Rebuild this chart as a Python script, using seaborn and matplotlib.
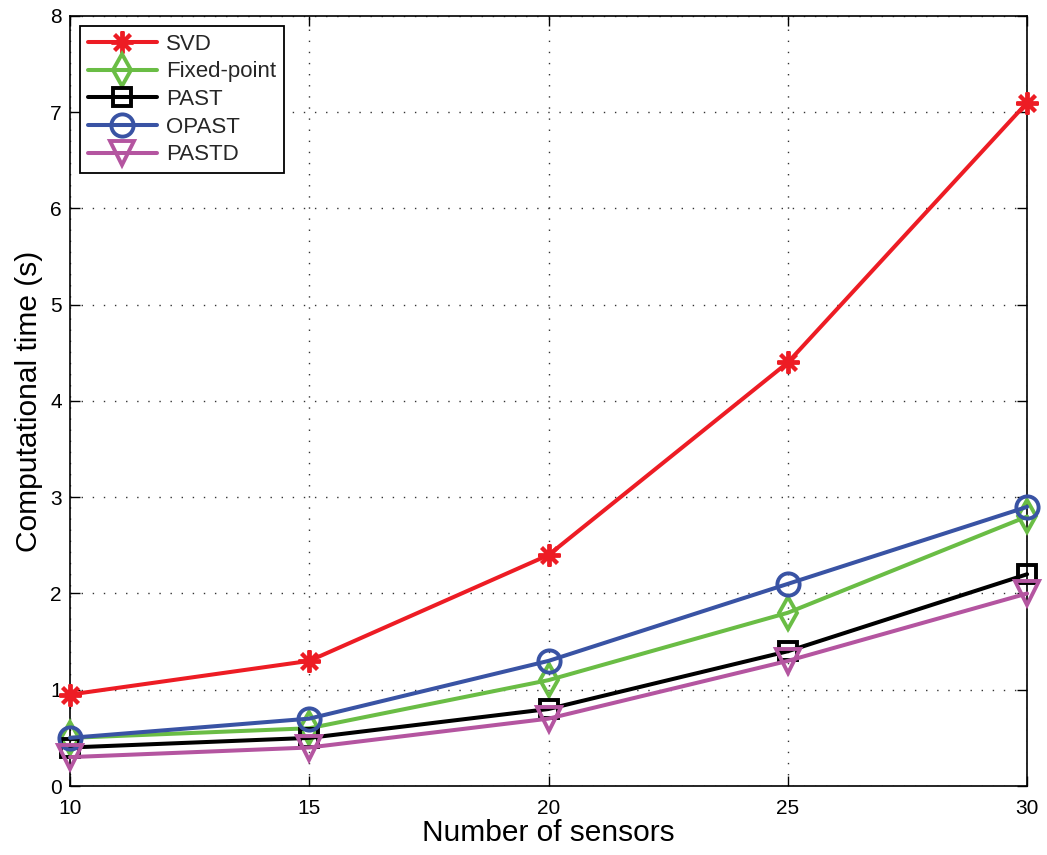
import matplotlib
matplotlib.use("Agg")
import matplotlib.pyplot as plt
import seaborn as sns
import pandas as pd

sensors = [10, 15, 20, 25, 30]
svd = [0.95, 1.3, 2.4, 4.4, 7.1]
fixed_point = [0.5, 0.6, 1.1, 1.8, 2.8]
past = [0.4, 0.5, 0.8, 1.4, 2.2]
opast = [0.5, 0.7, 1.3, 2.1, 2.9]
pastd = [0.3, 0.4, 0.7, 1.3, 2.0]

series_names = ["SVD", "Fixed-point", "PAST", "OPAST", "PASTD"]
series_values = [svd, fixed_point, past, opast, pastd]
x_ticks = [10, 15, 20, 25, 30]
y_ticks = [0, 1, 2, 3, 4, 5, 6, 7, 8]

sns.set_theme(style="ticks")
plt.rcParams["font.family"] = ["Liberation Sans", "DejaVu Sans"]

colors = ["#ED1C24", "#6ABD45", "#000000", "#3953A4", "#B455A0"]
markers = [(8, 2, 0), "d", "s", "o", "v"]
msizes = [16, 16, 12.5, 16, 17]

fig = plt.figure(figsize=(10.47, 8.55), dpi=100)
ax = fig.add_axes([0.0669, 0.0807, 0.9141, 0.9006])

for name, vals, c, m, ms in zip(series_names, series_values, colors, markers, msizes):
    df = pd.DataFrame({"x": sensors, "y": vals})
    sns.lineplot(data=df, x="x", y="y", ax=ax, color=c, marker=m,
                 markersize=ms, markerfacecolor="none", markeredgecolor=c,
                 markeredgewidth=2.8, linewidth=2.9, label=name, zorder=3,
                 clip_on=False)

ax.set_xlim(10, 30)
ax.set_ylim(0, 8)
ax.set_xticks(x_ticks)
ax.set_yticks(y_ticks)
ax.tick_params(direction="in", length=7, width=1, labelsize=15, color="black",
               labelcolor="black", top=True, right=True)
ax.tick_params(axis="x", pad=9)
ax.tick_params(axis="y", pad=6)
for s in ax.spines.values():
    s.set_visible(True)
    s.set_color("black")
    s.set_linewidth(1.2)
ax.grid(True, color="#333333", linestyle=(0, (1, 7)), linewidth=1)
ax.set_axisbelow(True)

ax.set_xlabel("Number of sensors", fontsize=21.5, labelpad=1, color="black")
ax.set_ylabel("Computational time (s)", fontsize=21.5, labelpad=5, color="black")

leg = ax.legend(loc="upper left", bbox_to_anchor=(0.0105, 0.987), fontsize=16,
                frameon=True, fancybox=False, edgecolor="black", framealpha=1,
                handlelength=3.1, handletextpad=0.4, labelspacing=0.3,
                borderpad=0.35, borderaxespad=0)
leg.get_frame().set_linewidth(1.3)

fig.savefig("out.png", dpi=100)
